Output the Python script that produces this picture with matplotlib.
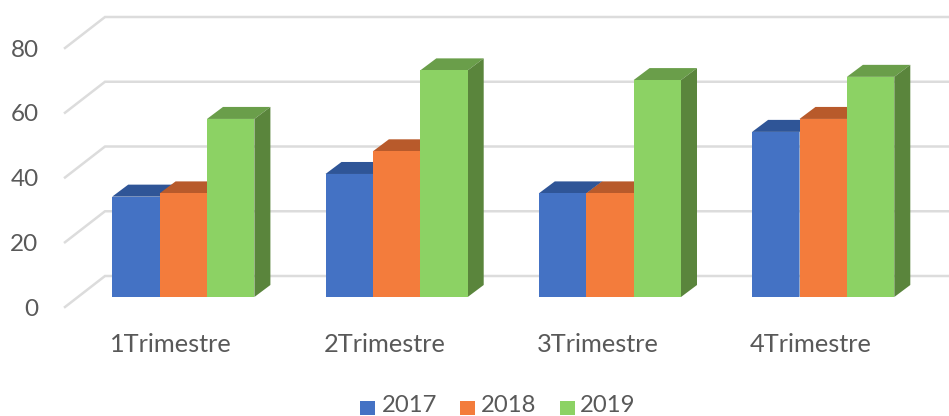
import matplotlib
matplotlib.use("Agg")
import matplotlib.pyplot as plt
from matplotlib.patches import Polygon, Rectangle

categories = ["1Trimestre", "2Trimestre", "3Trimestre", "4Trimestre"]
series_names = ["2017", "2018", "2019"]
values_2017 = [31, 38, 32, 51]
values_2018 = [32, 45, 32, 55]
values_2019 = [55, 70, 67, 68]
y_ticks = [0, 20, 40, 60, 80]

front_colors = ["#4472C4", "#F37C3C", "#8CD264"]
top_colors = ["#2F5597", "#B85A2B", "#6A9E4A"]
side_colors = ["#2F5597", "#B85A2B", "#5A853C"]

W, H = 949, 416
px_x = 213.3            # pixels per category
px_y = 3.2375           # pixels per value unit
x0_px, y0_px = 183.3, 297
bar_w = 47.4 / px_x
dep_x, dep_y = 16 / px_x, 12 / px_y

plt.rcParams["font.family"] = ["Lato", "DejaVu Sans"]
fig = plt.figure(figsize=(W / 100, H / 100), dpi=100)
ax = fig.add_axes([0, 0, 1, 1])
ax.set_xlim(-x0_px / px_x, (W - x0_px) / px_x)
ax.set_ylim(-(H - y0_px) / px_y, y0_px / px_y)
ax.axis("off")

# Gridlines, with the slanted wall-to-floor part
gl, gr = ax.get_xlim()
fx, bx = gl + 65 / px_x, gl + 105 / px_x
for v in y_ticks:
    ax.plot([fx, bx, gr], [v - 10 / px_y, v + 21 / px_y, v + 21 / px_y],
            color="#DCDCDC", lw=1.8, zorder=1, solid_joinstyle="miter")
    ax.text(gl + 38.5 / px_x, v - 12 / px_y, str(v), ha="right", va="center",
            fontsize=17.5, color="#595959")

# 3D bars
all_values = [values_2017, values_2018, values_2019]
for i, cat in enumerate(categories):
    left = i - 1.5 * bar_w
    for j, vals in enumerate(all_values):
        v = vals[i]
        x = left + j * bar_w
        z = 2 + j * 0.01
        ax.add_patch(Polygon([(x, v), (x + dep_x, v + dep_y), (x + bar_w + dep_x, v + dep_y), (x + bar_w, v)],
                             closed=True, fc=top_colors[j], ec="none", zorder=z))
        ax.add_patch(Polygon([(x + bar_w, 0), (x + bar_w + dep_x, dep_y), (x + bar_w + dep_x, v + dep_y), (x + bar_w, v)],
                             closed=True, fc=side_colors[j], ec="none", zorder=z))
    for j, vals in enumerate(all_values):
        ax.bar(left + j * bar_w, vals[i], width=bar_w, align="edge",
               color=front_colors[j], zorder=3 + j * 0.01)
    ax.text(i - 0.058, -47 / px_y, cat, ha="center", va="center",
            fontsize=18.3, color="#595959")

# Legend
legend_y = -(406 - y0_px) / px_y
square_y = -(408 - y0_px) / px_y
for name, c, sq, tx in zip(series_names, front_colors, [360, 460, 560], [382, 481, 580]):
    ax.add_patch(Rectangle((gl + sq / px_x, square_y - 7 / px_y), 15 / px_x, 14 / px_y, fc=c, ec="none", zorder=3))
    ax.text(gl + tx / px_x, legend_y, name, ha="left", va="center", fontsize=17.2, color="#595959")

fig.savefig("out.png", dpi=100)
